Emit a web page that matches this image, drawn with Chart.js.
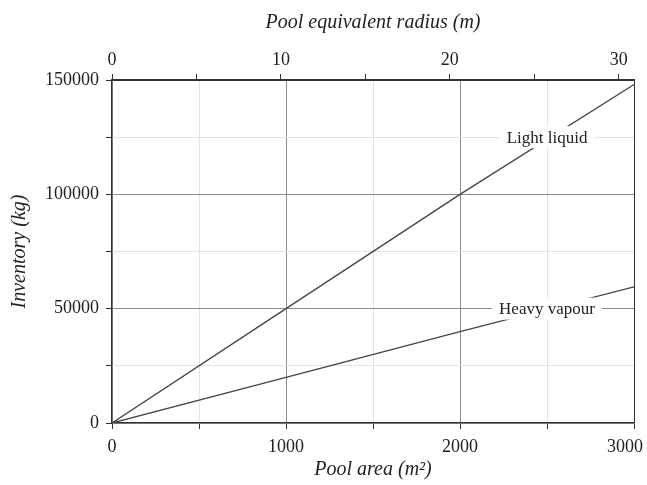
<!DOCTYPE html>
<html>
<head>
<meta charset="utf-8">
<script src="https://cdn.jsdelivr.net/npm/chart.js@4"></script>
<style>
  html, body { margin: 0; padding: 0; background: #fff; }
  #wrap { width: 647px; height: 485px; }
</style>
</head>
<body>
<div id="wrap"><canvas id="inventoryChart"></canvas></div>
<script>
// Data
const poolArea = [0, 1000, 2000, 3000];          // m2
const lightLiquid = [0, 50000, 100000, 148000];  // kg
const heavyVapour = [0, 20000, 40000, 59500];    // kg
const seriesNames = ['Light liquid', 'Heavy vapour'];

const areaMax = 3000;
const inventoryMax = 150000;
const radiusMax = Math.sqrt(areaMax / Math.PI);  // top axis: equivalent radius

const serif = '"Liberation Serif", "DejaVu Serif", serif';
const majorGrid = '#8c8c8c';
const minorGrid = '#e3e3e3';
const axisColor = '#333';

// inline labels sitting on the lines, with a white box behind
const lineLabels = {
    id: 'lineLabels',
    afterDatasetsDraw(chart) {
        const { ctx, scales: { x, y } } = chart;
        const spots = [[2500, 125000], [2500, 50000]];
        ctx.save();
        ctx.font = '17px ' + serif;
        ctx.textAlign = 'center';
        ctx.textBaseline = 'middle';
        seriesNames.forEach((name, i) => {
            const px = x.getPixelForValue(spots[i][0]);
            const py = y.getPixelForValue(spots[i][1]);
            const w = ctx.measureText(name).width + 14;
            ctx.fillStyle = '#fff';
            ctx.fillRect(px - w / 2, py - 11, w, 22);
            ctx.fillStyle = '#222';
            ctx.fillText(name, px, py + 1);
        });
        ctx.restore();
    }
};

function toPoints(values) {
    return poolArea.map((a, i) => ({ x: a, y: values[i] }));
}

window.addEventListener('DOMContentLoaded', () => {
    new Chart(document.getElementById('inventoryChart'), {
        type: 'line',
        data: {
            datasets: [{
                label: seriesNames[0],
                data: toPoints(lightLiquid),
                borderColor: '#444',
                borderWidth: 1.3,
                pointRadius: 0,
                tension: 0
            }, {
                label: seriesNames[1],
                data: toPoints(heavyVapour),
                borderColor: '#444',
                borderWidth: 1.3,
                pointRadius: 0,
                tension: 0
            }]
        },
        options: {
            responsive: true,
            maintainAspectRatio: false,
            animation: false,
            layout: { padding: { right: 13 } },
            plugins: {
                legend: { display: false },
                tooltip: { enabled: false }
            },
            scales: {
                x: {
                    type: 'linear',
                    position: 'bottom',
                    min: 0,
                    max: areaMax,
                    afterFit: s => { s.height = 62; s.paddingLeft = 0; s.paddingRight = 0; },
                    ticks: {
                        stepSize: 500,
                        maxRotation: 0,
                        autoSkip: false,
                        padding: 7,
                        color: '#222',
                        font: { family: serif, size: 18 },
                        // last label pulled in so it stays inside the page
                        callback: v => v % 1000 !== 0 ? '' : (v === areaMax ? v + '\u2002\u2002' : v)
                    },
                    grid: {
                        color: c => (c.tick.value % 1000 === 0) ? (c.tick.value === areaMax ? axisColor : majorGrid) : minorGrid,
                        tickColor: axisColor,
                        tickLength: 6,
                        lineWidth: 1
                    },
                    border: { color: axisColor, width: 1.3 },
                    title: {
                        display: true,
                        text: 'Pool area (m²)',
                        color: '#222',
                        font: { family: serif, size: 20, style: 'italic' },
                        padding: { top: 0, bottom: 3 }
                    }
                },
                x2: {
                    type: 'linear',
                    position: 'top',
                    min: 0,
                    max: radiusMax,
                    afterFit: s => { s.height = 80; s.paddingLeft = 0; s.paddingRight = 0; },
                    ticks: {
                        stepSize: 5,
                        includeBounds: false,
                        maxRotation: 0,
                        autoSkip: false,
                        padding: 3,
                        color: '#222',
                        font: { family: serif, size: 18 },
                        callback: v => v % 10 === 0 ? v : ''
                    },
                    grid: {
                        drawOnChartArea: false,
                        tickColor: axisColor,
                        tickLength: 6
                    },
                    border: { color: axisColor, width: 1.3 },
                    title: {
                        display: true,
                        text: 'Pool equivalent radius (m)',
                        color: '#222',
                        font: { family: serif, size: 20, style: 'italic' },
                        padding: { top: 11, bottom: 0 }
                    }
                },
                y: {
                    type: 'linear',
                    min: 0,
                    max: inventoryMax,
                    afterFit: s => { s.width = 112; s.paddingTop = 0; s.paddingBottom = 0; },
                    ticks: {
                        stepSize: 25000,
                        autoSkip: false,
                        padding: 7,
                        color: '#222',
                        font: { family: serif, size: 18 },
                        callback: v => v % 50000 === 0 ? v : ''
                    },
                    grid: {
                        color: c => (c.tick.value % 50000 === 0) ? (c.tick.value === inventoryMax ? axisColor : majorGrid) : minorGrid,
                        tickColor: axisColor,
                        tickLength: 6,
                        lineWidth: 1
                    },
                    border: { color: axisColor, width: 1.3 },
                    title: {
                        display: true,
                        text: 'Inventory (kg)',
                        color: '#222',
                        font: { family: serif, size: 20, style: 'italic' },
                        padding: { top: 8, bottom: 0 }
                    }
                }
            }
        },
        plugins: [lineLabels]
    });
});
</script>
</body>
</html>
